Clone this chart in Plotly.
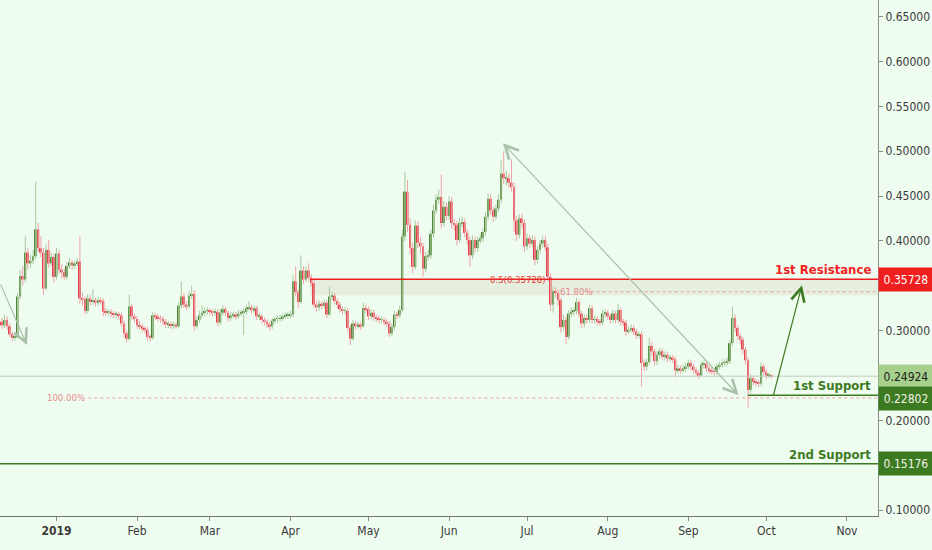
import plotly.graph_objects as go
import pandas as pd

# ---------------- data (daily candles) ----------------
start_date = "2018-12-11"
open_first = 0.310

close = [
    0.306, 0.312, 0.305, 0.296, 0.292, 0.293, 0.338, 0.361, 0.357, 0.387,
    0.375, 0.378, 0.383, 0.413, 0.392, 0.387, 0.347, 0.390, 0.375, 0.382,
    0.360, 0.386, 0.368, 0.365, 0.360, 0.372, 0.376, 0.373, 0.375, 0.377,
    0.336, 0.335, 0.322, 0.336, 0.332, 0.334, 0.331, 0.334, 0.333, 0.321,
    0.320, 0.321, 0.319, 0.318, 0.318, 0.317, 0.308, 0.297, 0.291, 0.327,
    0.316, 0.313, 0.306, 0.305, 0.302, 0.301, 0.293, 0.292, 0.317, 0.316,
    0.314, 0.313, 0.310, 0.307, 0.307, 0.306, 0.306, 0.305, 0.328, 0.338,
    0.329, 0.327, 0.339, 0.341, 0.305, 0.312, 0.317, 0.320, 0.322, 0.322,
    0.321, 0.320, 0.321, 0.309, 0.320, 0.324, 0.320, 0.314, 0.317, 0.318,
    0.316, 0.319, 0.320, 0.321, 0.325, 0.326, 0.323, 0.325, 0.316, 0.316,
    0.312, 0.310, 0.307, 0.305, 0.311, 0.313, 0.313, 0.314, 0.316, 0.317,
    0.317, 0.318, 0.355, 0.343, 0.332, 0.367, 0.357, 0.367, 0.359, 0.353,
    0.329, 0.326, 0.330, 0.328, 0.331, 0.318, 0.338, 0.339, 0.333, 0.329,
    0.324, 0.322, 0.322, 0.303, 0.291, 0.308, 0.305, 0.307, 0.305, 0.325,
    0.324, 0.316, 0.320, 0.315, 0.314, 0.312, 0.312, 0.310, 0.308, 0.297,
    0.304, 0.318, 0.317, 0.323, 0.405, 0.455, 0.418, 0.392, 0.371, 0.417,
    0.398, 0.394, 0.369, 0.383, 0.384, 0.408, 0.434, 0.446, 0.449, 0.420,
    0.438, 0.428, 0.444, 0.420, 0.418, 0.401, 0.420, 0.421, 0.409, 0.401,
    0.384, 0.401, 0.392, 0.401, 0.403, 0.410, 0.427, 0.447, 0.434, 0.427,
    0.436, 0.446, 0.475, 0.470, 0.470, 0.465, 0.460, 0.423, 0.407, 0.425,
    0.420, 0.394, 0.403, 0.397, 0.401, 0.379, 0.390, 0.397, 0.401, 0.393,
    0.360, 0.329, 0.344, 0.342, 0.334, 0.304, 0.312, 0.293, 0.319, 0.321,
    0.322, 0.332, 0.319, 0.308, 0.314, 0.312, 0.325, 0.312, 0.313, 0.310,
    0.309, 0.319, 0.320, 0.316, 0.312, 0.319, 0.312, 0.323, 0.310, 0.309,
    0.299, 0.301, 0.303, 0.299, 0.295, 0.296, 0.264, 0.260, 0.265, 0.283,
    0.277, 0.266, 0.273, 0.277, 0.271, 0.273, 0.269, 0.270, 0.268, 0.256,
    0.258, 0.256, 0.258, 0.260, 0.264, 0.260, 0.256, 0.253, 0.250, 0.262,
    0.263, 0.258, 0.256, 0.255, 0.254, 0.260, 0.262, 0.264, 0.265, 0.266,
    0.286, 0.314, 0.303, 0.294, 0.290, 0.279, 0.267, 0.234, 0.247, 0.243,
    0.242, 0.241, 0.260, 0.254, 0.250, 0.250, 0.249,
]

high = [
    0.314, 0.318, 0.316, 0.308, 0.299, 0.297, 0.342, 0.368, 0.372, 0.405,
    0.392, 0.385, 0.390, 0.466, 0.420, 0.405, 0.392, 0.396, 0.401, 0.387,
    0.386, 0.392, 0.390, 0.374, 0.369, 0.377, 0.381, 0.379, 0.378, 0.381,
    0.405, 0.342, 0.338, 0.341, 0.340, 0.346, 0.337, 0.338, 0.337, 0.336,
    0.325, 0.324, 0.324, 0.322, 0.321, 0.321, 0.320, 0.311, 0.300, 0.340,
    0.330, 0.319, 0.316, 0.311, 0.308, 0.305, 0.304, 0.296, 0.321, 0.320,
    0.319, 0.317, 0.316, 0.313, 0.311, 0.310, 0.310, 0.309, 0.332, 0.355,
    0.342, 0.333, 0.344, 0.350, 0.345, 0.316, 0.322, 0.328, 0.326, 0.326,
    0.325, 0.324, 0.325, 0.324, 0.324, 0.328, 0.327, 0.322, 0.321, 0.321,
    0.321, 0.323, 0.323, 0.324, 0.329, 0.333, 0.329, 0.328, 0.328, 0.320,
    0.319, 0.315, 0.313, 0.310, 0.314, 0.316, 0.317, 0.318, 0.319, 0.320,
    0.321, 0.322, 0.362, 0.372, 0.346, 0.384, 0.372, 0.372, 0.375, 0.363,
    0.356, 0.333, 0.334, 0.333, 0.335, 0.334, 0.349, 0.343, 0.342, 0.336,
    0.332, 0.327, 0.326, 0.325, 0.306, 0.312, 0.311, 0.310, 0.310, 0.331,
    0.329, 0.327, 0.324, 0.323, 0.318, 0.317, 0.316, 0.315, 0.313, 0.311,
    0.308, 0.322, 0.321, 0.328, 0.412, 0.477, 0.468, 0.425, 0.398, 0.423,
    0.422, 0.404, 0.398, 0.388, 0.390, 0.413, 0.440, 0.452, 0.457, 0.474,
    0.444, 0.443, 0.450, 0.449, 0.425, 0.422, 0.426, 0.427, 0.425, 0.413,
    0.405, 0.406, 0.405, 0.405, 0.407, 0.414, 0.432, 0.453, 0.452, 0.438,
    0.441, 0.452, 0.490, 0.500, 0.478, 0.475, 0.491, 0.465, 0.428, 0.430,
    0.430, 0.424, 0.408, 0.407, 0.406, 0.405, 0.394, 0.401, 0.405, 0.406,
    0.397, 0.364, 0.349, 0.348, 0.346, 0.337, 0.318, 0.316, 0.323, 0.326,
    0.326, 0.337, 0.335, 0.322, 0.318, 0.318, 0.329, 0.328, 0.317, 0.316,
    0.313, 0.323, 0.324, 0.323, 0.319, 0.323, 0.322, 0.330, 0.326, 0.313,
    0.312, 0.305, 0.307, 0.306, 0.302, 0.299, 0.299, 0.268, 0.269, 0.292,
    0.288, 0.280, 0.277, 0.281, 0.280, 0.277, 0.276, 0.273, 0.273, 0.271,
    0.262, 0.261, 0.262, 0.264, 0.268, 0.267, 0.263, 0.259, 0.256, 0.266,
    0.267, 0.266, 0.261, 0.259, 0.258, 0.263, 0.265, 0.268, 0.268, 0.270,
    0.290, 0.327, 0.318, 0.306, 0.297, 0.293, 0.282, 0.270, 0.251, 0.250,
    0.246, 0.245, 0.265, 0.263, 0.257, 0.253, 0.252,
]

low = [
    0.302, 0.303, 0.301, 0.293, 0.288, 0.289, 0.291, 0.335, 0.350, 0.354,
    0.368, 0.370, 0.374, 0.380, 0.388, 0.382, 0.340, 0.345, 0.370, 0.372,
    0.354, 0.357, 0.364, 0.358, 0.356, 0.357, 0.369, 0.368, 0.369, 0.372,
    0.330, 0.328, 0.318, 0.319, 0.328, 0.329, 0.327, 0.328, 0.329, 0.316,
    0.316, 0.317, 0.315, 0.314, 0.314, 0.312, 0.304, 0.293, 0.287, 0.289,
    0.312, 0.309, 0.302, 0.301, 0.298, 0.297, 0.289, 0.288, 0.290, 0.312,
    0.310, 0.309, 0.306, 0.303, 0.303, 0.302, 0.302, 0.302, 0.303, 0.325,
    0.325, 0.323, 0.325, 0.335, 0.300, 0.302, 0.309, 0.314, 0.316, 0.318,
    0.317, 0.316, 0.317, 0.305, 0.306, 0.317, 0.316, 0.310, 0.311, 0.314,
    0.312, 0.313, 0.316, 0.295, 0.318, 0.322, 0.319, 0.320, 0.312, 0.312,
    0.308, 0.306, 0.303, 0.300, 0.302, 0.308, 0.309, 0.310, 0.311, 0.313,
    0.313, 0.314, 0.315, 0.338, 0.325, 0.330, 0.352, 0.354, 0.355, 0.349,
    0.325, 0.321, 0.322, 0.324, 0.325, 0.314, 0.316, 0.334, 0.329, 0.325,
    0.320, 0.318, 0.318, 0.299, 0.284, 0.289, 0.301, 0.302, 0.301, 0.303,
    0.320, 0.312, 0.313, 0.311, 0.310, 0.308, 0.308, 0.306, 0.304, 0.293,
    0.294, 0.301, 0.313, 0.314, 0.320, 0.400, 0.410, 0.385, 0.364, 0.368,
    0.392, 0.386, 0.360, 0.365, 0.378, 0.380, 0.404, 0.430, 0.441, 0.414,
    0.416, 0.423, 0.424, 0.414, 0.412, 0.395, 0.398, 0.415, 0.404, 0.396,
    0.371, 0.380, 0.387, 0.388, 0.397, 0.399, 0.406, 0.423, 0.429, 0.421,
    0.423, 0.432, 0.442, 0.463, 0.462, 0.459, 0.455, 0.410, 0.400, 0.403,
    0.414, 0.388, 0.390, 0.392, 0.393, 0.373, 0.375, 0.386, 0.393, 0.389,
    0.355, 0.322, 0.320, 0.337, 0.328, 0.298, 0.300, 0.285, 0.290, 0.315,
    0.317, 0.318, 0.315, 0.303, 0.304, 0.308, 0.309, 0.308, 0.308, 0.306,
    0.305, 0.306, 0.315, 0.312, 0.308, 0.309, 0.308, 0.309, 0.306, 0.305,
    0.294, 0.296, 0.298, 0.295, 0.291, 0.291, 0.238, 0.255, 0.256, 0.262,
    0.272, 0.261, 0.262, 0.269, 0.267, 0.267, 0.265, 0.266, 0.264, 0.248,
    0.252, 0.252, 0.253, 0.254, 0.257, 0.256, 0.252, 0.249, 0.246, 0.248,
    0.258, 0.254, 0.252, 0.251, 0.250, 0.251, 0.257, 0.259, 0.260, 0.261,
    0.263, 0.283, 0.298, 0.289, 0.285, 0.274, 0.262, 0.214, 0.230, 0.239,
    0.238, 0.237, 0.238, 0.250, 0.246, 0.247, 0.247,
]

# price levels
resistance_1 = 0.35728
last_price = 0.24924
support_1 = 0.22802
support_2 = 0.15176
fib_618 = 0.3434
fib_100 = 0.2250
zone_bottom = 0.3396

month_ticks = ["2019-01-01", "2019-02-01", "2019-03-01", "2019-04-01", "2019-05-01",
               "2019-06-01", "2019-07-01", "2019-08-01", "2019-09-01", "2019-10-01",
               "2019-11-01"]
month_text = ["<b>2019</b>", "Feb", "Mar", "Apr", "May", "Jun", "Jul", "Aug", "Sep", "Oct", "Nov"]
price_ticks = [0.10, 0.20, 0.30, 0.40, 0.45, 0.50, 0.55, 0.60, 0.65]

# drawing anchors (dates / prices of the hand-drawn tools)
x_range = ["2018-12-10 06:30", "2019-11-12 23:00"]
y_range = [0.0934, 0.6686]
resist_start = "2019-04-08 12:00"
support1_start = "2019-09-23 22:00"
big_arrow = (("2019-06-21 17:00", 0.509), ("2019-09-20 21:00", 0.2262))
left_arrow = (("2018-12-10 06:30", 0.353), ("2018-12-20 15:00", 0.284))
green_arrow = (("2019-10-03 14:00", 0.2263), ("2019-10-14 17:00", 0.3507))

# ---------------- styling ----------------
BG = "#effcf0"
UP_BODY = "#4f8535"
DN_BODY = "#e0434b"
UP_WICK = "#a9c99e"
DN_WICK = "#f0a3a6"
RED = "#f01f1f"
DKGREEN = "#3c7a22"
ARROW_GRAY = "#a9c2a9"
FONT = "DejaVu Sans Condensed, Liberation Sans Narrow, sans-serif"

dates = pd.date_range(start_date, periods=len(close), freq="D")
opens = [open_first] + close[:-1]
day_ms = 86400000

fig = go.Figure()

for is_up, wick_col in [(True, UP_WICK), (False, DN_WICK)]:
    idx = [i for i in range(len(close)) if (close[i] >= opens[i]) == is_up]
    wx, wy = [], []
    for i in idx:
        wx += [dates[i], dates[i], None]
        wy += [low[i], high[i], None]
    fig.add_trace(go.Scatter(x=wx, y=wy, mode="lines",
                             line=dict(color=wick_col, width=1),
                             hoverinfo="skip", showlegend=False))
for is_up, body_col in [(True, UP_BODY), (False, DN_BODY)]:
    idx = [i for i in range(len(close)) if (close[i] >= opens[i]) == is_up]
    fig.add_trace(go.Bar(
        x=[dates[i] for i in idx],
        base=[min(opens[i], close[i]) for i in idx],
        y=[max(abs(close[i] - opens[i]), 0.0009) for i in idx],
        width=[0.75 * day_ms] * len(idx),
        marker=dict(color=body_col, line=dict(width=0)),
        hoverinfo="skip", showlegend=False))

shapes = []
shapes.append(dict(type="rect", xref="x", yref="y", x0=resist_start, x1=x_range[1],
                   y0=zone_bottom, y1=resistance_1, fillcolor="rgba(205,200,180,0.28)",
                   line=dict(width=0), layer="below"))
shapes.append(dict(type="line", xref="paper", yref="y", x0=0, x1=1, y0=last_price, y1=last_price,
                   line=dict(color="#c3cbc3", width=1)))
shapes.append(dict(type="line", xref="paper", yref="y", x0=0.666, x1=1, y0=fib_618, y1=fib_618,
                   line=dict(color="#e9a0a0", width=1, dash="dot")))
shapes.append(dict(type="line", xref="paper", yref="y", x0=0.1005, x1=1, y0=fib_100, y1=fib_100,
                   line=dict(color="#e9a0a0", width=1, dash="dot")))
shapes.append(dict(type="line", xref="x", yref="y", x0=resist_start, x1=x_range[1],
                   y0=resistance_1, y1=resistance_1, line=dict(color=RED, width=1.5)))
shapes.append(dict(type="line", xref="x", yref="y", x0=support1_start, x1=x_range[1],
                   y0=support_1, y1=support_1, line=dict(color=DKGREEN, width=1.5)))
shapes.append(dict(type="line", xref="paper", yref="y", x0=0, x1=1,
                   y0=support_2, y1=support_2, line=dict(color=DKGREEN, width=1.5)))

annotations = []
for (tail, head), col, both in [(big_arrow[::-1], ARROW_GRAY, True),
                                (left_arrow, ARROW_GRAY, False),
                                (green_arrow, DKGREEN, False)]:
    a = dict(x=head[0], y=head[1], ax=tail[0], ay=tail[1], xref="x", yref="y",
             axref="x", ayref="y", text="", showarrow=True, arrowhead=5,
             arrowsize=2.2, arrowwidth=1.2, arrowcolor=col)
    if both:
        a.update(arrowside="end+start", startarrowhead=5, startarrowsize=2.2)
    annotations.append(a)

annotations += [
    dict(xref="paper", yref="y", x=0.9945, y=resistance_1, text="<b>1st Resistance</b>",
         xanchor="right", yanchor="bottom", showarrow=False,
         font=dict(family=FONT, size=13, color=RED)),
    dict(xref="paper", yref="y", x=0.9945, y=support_1, text="<b>1st Support</b>",
         xanchor="right", yanchor="bottom", showarrow=False,
         font=dict(family=FONT, size=13, color=DKGREEN)),
    dict(xref="paper", yref="y", x=0.9945, y=support_2, text="<b>2nd Support</b>",
         xanchor="right", yanchor="bottom", showarrow=False,
         font=dict(family=FONT, size=13, color=DKGREEN)),
    dict(xref="paper", yref="y", x=0.6245, y=resistance_1, text="0.5(0.35728)",
         xanchor="right", yanchor="middle", showarrow=False,
         font=dict(family=FONT, size=9.5, color="#e53935")),
    dict(xref="paper", yref="y", x=0.6355, y=fib_618, text="61.80%",
         xanchor="left", yanchor="middle", showarrow=False,
         font=dict(family=FONT, size=9.5, color="#e88a8a")),
    dict(xref="paper", yref="y", x=0.0995, y=fib_100, text="100.00%",
         xanchor="right", yanchor="middle", showarrow=False,
         font=dict(family=FONT, size=9.5, color="#e88a8a")),
]

for val, bg, fg, shift in [(resistance_1, RED, "#ffffff", 0),
                           (last_price, "#a7d08d", "#1b1b1b", 0),
                           (support_1, DKGREEN, "#f2f2e6", -3),
                           (support_2, DKGREEN, "#f2f2e6", 0)]:
    annotations.append(dict(xref="paper", yref="y", x=1, y=val, xanchor="left",
                            yanchor="middle", yshift=shift, text=f"{val:.5f}",
                            showarrow=False, bgcolor=bg, width=50, height=19,
                            borderpad=2, align="center",
                            font=dict(family=FONT, size=12, color=fg)))

fig.update_layout(
    width=932, height=550,
    margin=dict(l=0, r=54, t=0, b=34, autoexpand=False),
    paper_bgcolor=BG, plot_bgcolor=BG,
    barmode="overlay", showlegend=False,
    shapes=shapes, annotations=annotations,
    font=dict(family=FONT, size=12, color="#3a3a3a"),
    xaxis=dict(type="date", range=x_range, showgrid=False, zeroline=False,
               automargin=False,
               tickvals=month_ticks, ticktext=month_text, ticks="outside",
               ticklen=4, tickcolor="#8a8f8a", showline=True, linecolor="#6e746e",
               linewidth=1, tickfont=dict(family=FONT, size=12, color="#3a3a3a"),
               fixedrange=True),
    yaxis=dict(range=y_range, side="right", showgrid=False, zeroline=False,
               automargin=False,
               tickvals=price_ticks, tickformat=".5f", ticks="outside", ticklen=4,
               tickcolor="#8a8f8a", showline=True, linecolor="#8a8f8a", linewidth=1,
               tickfont=dict(family=FONT, size=12, color="#3a3a3a"), fixedrange=True),
)

fig.write_html("out.html", config={"displayModeBar": False},
               post_script="document.body.style.margin='0';document.body.style.background='%s';" % BG)
